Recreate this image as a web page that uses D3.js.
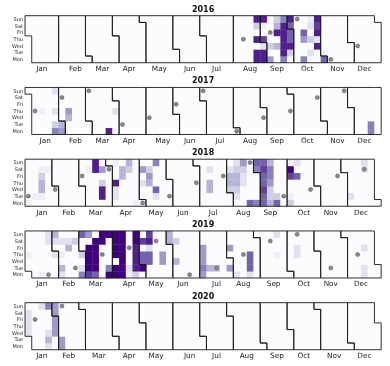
<!DOCTYPE html>
<html>
<head>
<meta charset="utf-8">
<script src="https://cdn.jsdelivr.net/npm/d3@7"></script>
<style>
  body { margin: 0; background: #fff; }
  svg { will-change: transform; }
  text { font-family: "DejaVu Sans", sans-serif; }
</style>
</head>
<body>
<div id="chart"></div>
<script>
// Years, row and month labels
var years = [2016, 2017, 2018, 2019, 2020];
var dayNames = ["Sun", "Sat", "Fri", "Thu", "Wed", "Tue", "Mon"];
var monthNames = ["Jan", "Feb", "Mar", "Apr", "May", "Jun", "Jul", "Aug", "Sep", "Oct", "Nov", "Dec"];

// Daily values (0-10), one array per month, day 1 first
var aug2016 = [0,0,0,0,0,0,0,0,0,0, 0,0,0,0,0,0,0,0,0,0, 0,9,9,0,9,0,3,9,9,9, 2];
var sep2016 = [8,0,1,9, 5,0,3,0,0,0,0, 0,0,4,0,9,4,3, 6,9,9,9,9,9,6, 0,3,9,7,7];
var oct2016 = [7,9, 0,0,0,0,0,0,0, 6,0,0,5,7,0,0, 0,2,0,3,0,2,1, 0,0,9,2,9,8,9, 7];
var nov2016 = [1];
var jan2017 = [0,0,0,0,0,0,0,0,0,0, 0,1,0,0,0,0,0,0,0,0, 0,0,6,3,0,2,0,0,2,5, 4];
var feb2017 = [0,0,0,0,0,0,0,4,5];
var mar2017 = [0,0,0,0,0,0,0,0,0,0, 0,0,0,0,0,0,0,0,0,9, 0,0,0,0,0,0,0,0,0,2];
var dec2017 = [0,0,0,0,0,0,0,0,0,0, 0,0,0,0,0,0,0,6,6];
var jan2018 = [1,0,0,0,0,0,0,0,1,0, 0,0,0,0,0,1,4,4,3,1, 0,0,0,0,0,0,1];
var mar2018 = [0,0,0,0,0,0,0,0,0,1, 0,0,0,0,0,0,9,9,0,9, 9,3,0,5];
var apr2018 = [0,0,2,2,9,0,0,1,0,0, 0,0,4,4,0,0,0,0,0,0, 3,4,1];
var may2018 = [0,0,2,0,5,0,0,0,0,4, 5,3,0,0,2,7,0,0,0,6];
var jul2018 = [0,0,0,0,0,0,0,0,0,0, 4,4,0,2];
var aug2018 = [3,4,4,2,0,0,2,3,4,4, 3,2,0,0,0,2,2,3,5,7, 0,0,0,0,0,0,6];
var sep2018 = [6,7,7,7,8,7,7,8,7,4, 3,3,5,6,6,4,7,3];
var oct2018 = [3,1,0,0,8,10,1,0,0,0, 0,7,0,2];
var dec2018 = [0,0,0,2,0,0,0,0,0,0, 0,0,0,0,0,0,0,0,0,0, 0,2,2];
var jan2019 = [0,0,1,0,0,0,0,0,0,0, 0,0,0,1,0,0,0,0,0,0, 0,0,0,0,0,2,2,0,0,0, 2];
var feb2019 = [0,2,4,2,4,0,1,0,2,0, 0,0,0,0,4,2,0,0,0,0, 0,0,3,0,6,2,0,3];
var mar2019 = [0,0,7,8,10,10,10,10,0,5, 7,10,10,10,10,10,0,0,0,0, 0,0,10,10,10,6,0,0,0,0, 10];
var apr2019 = [10,10,0,10,10,10,10, 10,10,10,10,10,10,10, 1,2,0,0,0,0,0, 3,9,9,9,9,10,10, 0,10];
var may2019 = [7,7,0,8,0,0,0,7,7,2, 9,8,0,0,0,0,0,0,0,0, 0,5,5];
var jun2019 = [4,4,0,0,4,0,0,3];
var jul2019 = [5,6,5,5,5,0,0,0,4,0, 0,0,0,0,0,4,0,0,0,0, 0,0,0,0,0,0,0,0,0,5];
var aug2019 = [0,5,0,0,2,0,0,0,0,0, 0,0,0,0,0,0,0,0,2,7, 7,7];
var sep2019 = [0,0,0,0,0,0,0,0,0,0, 0,0,0,0,0,0,0,0,1,0, 0,2];
var oct2019 = [0,0,0,0,0,0,0,0,0,2, 2];
var dec2019 = [0,0,0,0,0,0,0,0,0,0, 0,0,0,0,0,2,2,0,0,2];
var jan2020 = [2,2,2,2,0,0,0,0,0,0, 0,0,0,0,0,0,0,0,2,2, 4,2,0,0,0,6,0,0,5,5, 5];
var feb2020 = [5,5,5,5];

var monthSeries = [
  ["2016-08", aug2016], ["2016-09", sep2016], ["2016-10", oct2016], ["2016-11", nov2016],
  ["2017-01", jan2017], ["2017-02", feb2017], ["2017-03", mar2017], ["2017-12", dec2017],
  ["2018-01", jan2018], ["2018-03", mar2018], ["2018-04", apr2018], ["2018-05", may2018],
  ["2018-07", jul2018], ["2018-08", aug2018], ["2018-09", sep2018], ["2018-10", oct2018],
  ["2018-12", dec2018],
  ["2019-01", jan2019], ["2019-02", feb2019], ["2019-03", mar2019], ["2019-04", apr2019],
  ["2019-05", may2019], ["2019-06", jun2019], ["2019-07", jul2019], ["2019-08", aug2019],
  ["2019-09", sep2019], ["2019-10", oct2019], ["2019-12", dec2019],
  ["2020-01", jan2020], ["2020-02", feb2020]
];

// Marked days (grey dots), as placed in the chart
var markDays = [
  "2016-08-11", "2016-09-09", "2016-10-09", "2016-11-07", "2016-12-07",
  "2017-01-05", "2017-02-04", "2017-03-05", "2017-04-04", "2017-05-03", "2017-06-02",
  "2017-07-02", "2017-07-31", "2017-08-30", "2017-09-28", "2017-10-28", "2017-11-26",
  "2018-01-02", "2018-01-31", "2018-03-02", "2018-03-31", "2018-04-30", "2018-05-29",
  "2018-06-28", "2018-07-27", "2018-08-26", "2018-09-25", "2018-10-24", "2018-11-23", "2018-12-22",
  "2019-01-21", "2019-02-19", "2019-03-21", "2019-04-19", "2019-05-18", "2019-06-17",
  "2019-07-16", "2019-08-15", "2019-09-14", "2019-10-13", "2019-11-12", "2019-12-12",
  "2020-01-10", "2020-02-09"
];

// Lookup of value by date
var fmt = d3.timeFormat("%Y-%m-%d");
var parse = d3.timeParse("%Y-%m-%d");
var valueByDate = new Map();
monthSeries.forEach(function (m) {
  m[1].forEach(function (v, i) {
    valueByDate.set(m[0] + "-" + String(i + 1).padStart(2, "0"), v);
  });
});

var width = 390, height = 366;
var left = 25, cell = 6.72, top0 = 15.7, yearStep = 71.75;

var svg = d3.select("#chart").append("svg")
  .attr("width", width)
  .attr("height", height);

var x = d3.scaleLinear().domain([0, 53]).range([left, left + 53 * cell]);
var color = d3.scaleSequential(d3.interpolatePurples).domain([0, 10]);

function weekOf(d) { return d3.timeMonday.count(d3.timeYear(d), d); }
function rowOf(d) { return 6 - (d.getDay() + 6) % 7; }  // Sun on top, Mon at bottom

years.forEach(function (year, k) {
  var top = top0 + k * yearStep;
  var y = d3.scaleLinear().domain([0, 7]).range([top, top + 7 * cell]);
  var g = svg.append("g").attr("class", "year-" + year);
  var days = d3.timeDays(new Date(year, 0, 1), new Date(year + 1, 0, 1));

  // day cells
  g.append("g").selectAll("rect")
    .data(days)
    .enter().append("rect")
    .attr("x", function (d) { return x(weekOf(d)); })
    .attr("y", function (d) { return y(rowOf(d)); })
    .attr("width", x(1) - x(0) + 0.3)
    .attr("height", y(1) - y(0) + 0.3)
    .style("fill", function (d) {
      var v = valueByDate.get(fmt(d));
      return color(v || 0);
    });

  // month outlines
  var months = d3.timeMonths(new Date(year, 0, 1), new Date(year + 1, 0, 1));
  var line = d3.line().x(function (p) { return x(p[0]); }).y(function (p) { return y(p[1]); });
  g.append("g").selectAll("path")
    .data(months)
    .enter().append("path")
    .attr("d", function (m) {
      var last = d3.timeDay.offset(d3.timeMonth.offset(m, 1), -1);
      var c0 = weekOf(m), r0 = rowOf(m), c1 = weekOf(last), r1 = rowOf(last);
      return line([[c0, 0], [c1, 0], [c1, r1], [c1 + 1, r1], [c1 + 1, 7],
        [c0 + 1, 7], [c0 + 1, r0 + 1], [c0, r0 + 1], [c0, 0]]);
    })
    .style("fill", "none")
    .style("stroke", "#1a1a1a")
    .style("stroke-width", 0.9);

  // month labels
  g.append("g").selectAll("text")
    .data(months)
    .enter().append("text")
    .attr("x", function (m) {
      var last = d3.timeDay.offset(d3.timeMonth.offset(m, 1), -1);
      return (x(weekOf(m)) + x(weekOf(last) + 1)) / 2;
    })
    .attr("y", top + 7 * cell + 8.3)
    .attr("text-anchor", "middle")
    .style("font-size", "7.3px")
    .style("fill", "#222")
    .text(function (m) { return monthNames[m.getMonth()]; });

  // weekday labels
  g.append("g").selectAll("text")
    .data(dayNames)
    .enter().append("text")
    .attr("x", left - 2)
    .attr("y", function (d, i) { return y(i + 0.5) + 1.8; })
    .attr("text-anchor", "end")
    .style("font-size", "5px")
    .style("fill", "#222")
    .text(function (d) { return d; });

  // year title
  g.append("text")
    .attr("x", (x(0) + x(53)) / 2)
    .attr("y", top - 4)
    .attr("text-anchor", "middle")
    .style("font-size", "8px")
    .style("font-weight", "bold")
    .style("fill", "#111")
    .text(year);

  // marked days
  g.append("g").selectAll("circle")
    .data(markDays.map(parse).filter(function (d) { return d.getFullYear() === year; }))
    .enter().append("circle")
    .attr("cx", function (d) { return x(weekOf(d) + 0.5); })
    .attr("cy", function (d) { return y(rowOf(d) + 0.5); })
    .attr("r", 2)
    .style("fill", "#8a8a8a")
    .style("stroke", "#4d4d4d")
    .style("stroke-width", 0.5);
});
</script>
</body>
</html>
